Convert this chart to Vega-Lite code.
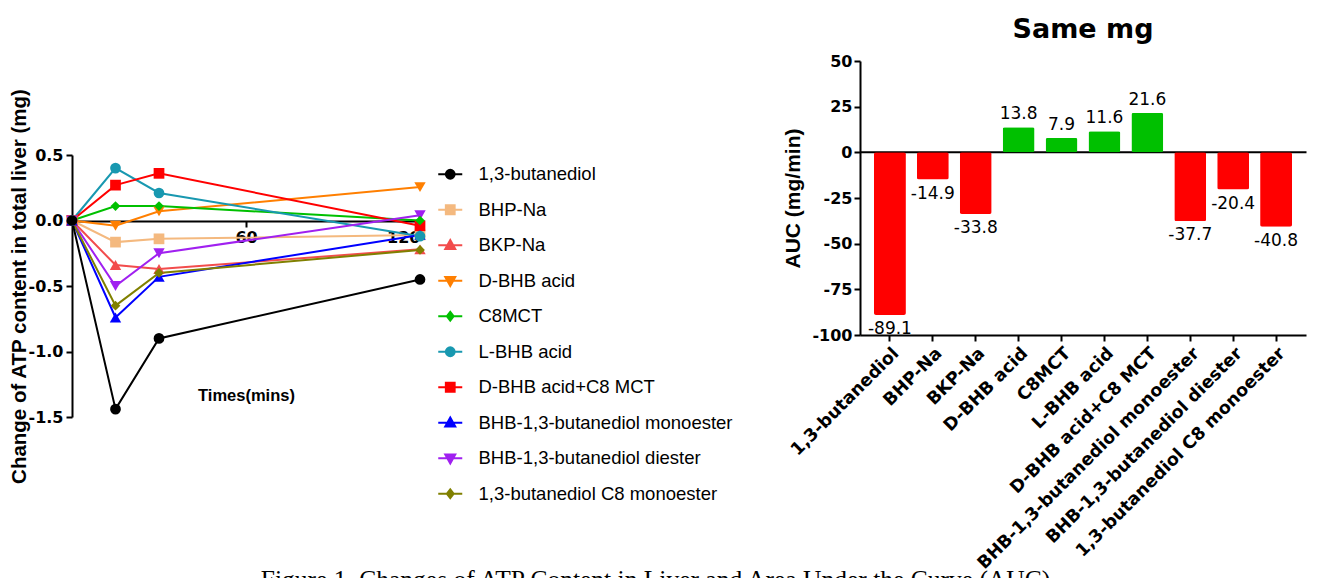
{
  "$schema": "https://vega.github.io/schema/vega-lite/v6.json",
  "width": 1234,
  "height": 356,
  "autosize": {"type": "none"},
  "padding": {"left": 72, "top": 61, "right": 13, "bottom": 161},
  "background": "white",
  "config": {
    "locale": {"number": {"decimal": ".", "thousands": ",", "grouping": [3], "currency": ["$", ""], "minus": "-"}},
    "view": {"stroke": null},
    "axis": {
      "domainColor": "black", "tickColor": "black", "labelColor": "black", "titleColor": "black",
      "domainWidth": 2, "tickWidth": 2, "tickSize": 6, "grid": false,
      "labelFont": "DejaVu Sans", "labelFontWeight": "bold", "labelFontSize": 16,
      "titleFont": "Liberation Sans", "titleFontWeight": "bold", "labelOverlap": false
    }
  },
  "title": {"text": "Same mg", "font": "DejaVu Sans", "fontSize": 27, "fontWeight": "bold", "anchor": "middle", "frame": "group", "dx": 394, "dy": -5, "color": "black"},
  "datasets": {
    "atp": [
      {"series": "BHP-Na", "time": 0, "change": 0},
      {"series": "BHP-Na", "time": 15, "change": -0.165},
      {"series": "BHP-Na", "time": 30, "change": -0.14},
      {"series": "BHP-Na", "time": 120, "change": -0.11},
      {"series": "BKP-Na", "time": 0, "change": 0},
      {"series": "BKP-Na", "time": 15, "change": -0.34},
      {"series": "BKP-Na", "time": 30, "change": -0.37},
      {"series": "BKP-Na", "time": 120, "change": -0.22},
      {"series": "D-BHB acid", "time": 0, "change": 0},
      {"series": "D-BHB acid", "time": 15, "change": -0.04},
      {"series": "D-BHB acid", "time": 30, "change": 0.07},
      {"series": "D-BHB acid", "time": 120, "change": 0.255},
      {"series": "C8MCT", "time": 0, "change": 0},
      {"series": "C8MCT", "time": 15, "change": 0.11},
      {"series": "C8MCT", "time": 30, "change": 0.11},
      {"series": "C8MCT", "time": 120, "change": 0.0},
      {"series": "L-BHB acid", "time": 0, "change": 0},
      {"series": "L-BHB acid", "time": 15, "change": 0.4},
      {"series": "L-BHB acid", "time": 30, "change": 0.21},
      {"series": "L-BHB acid", "time": 120, "change": -0.12},
      {"series": "D-BHB acid+C8 MCT", "time": 0, "change": 0},
      {"series": "D-BHB acid+C8 MCT", "time": 15, "change": 0.27},
      {"series": "D-BHB acid+C8 MCT", "time": 30, "change": 0.36},
      {"series": "D-BHB acid+C8 MCT", "time": 120, "change": -0.04},
      {"series": "BHB-1,3-butanediol monoester", "time": 0, "change": 0},
      {"series": "BHB-1,3-butanediol monoester", "time": 15, "change": -0.74},
      {"series": "BHB-1,3-butanediol monoester", "time": 30, "change": -0.43},
      {"series": "BHB-1,3-butanediol monoester", "time": 120, "change": -0.11},
      {"series": "BHB-1,3-butanediol diester", "time": 0, "change": 0},
      {"series": "BHB-1,3-butanediol diester", "time": 15, "change": -0.5},
      {"series": "BHB-1,3-butanediol diester", "time": 30, "change": -0.25},
      {"series": "BHB-1,3-butanediol diester", "time": 120, "change": 0.04},
      {"series": "1,3-butanediol C8 monoester", "time": 0, "change": 0},
      {"series": "1,3-butanediol C8 monoester", "time": 15, "change": -0.65},
      {"series": "1,3-butanediol C8 monoester", "time": 30, "change": -0.4},
      {"series": "1,3-butanediol C8 monoester", "time": 120, "change": -0.225},
      {"series": "1,3-butanediol", "time": 0, "change": 0},
      {"series": "1,3-butanediol", "time": 15, "change": -1.44},
      {"series": "1,3-butanediol", "time": 30, "change": -0.9},
      {"series": "1,3-butanediol", "time": 120, "change": -0.45}
    ],
    "auc": [
      {"compound": "1,3-butanediol", "AUC": -89.1},
      {"compound": "BHP-Na", "AUC": -14.9},
      {"compound": "BKP-Na", "AUC": -33.8},
      {"compound": "D-BHB acid", "AUC": 13.8},
      {"compound": "C8MCT", "AUC": 7.9},
      {"compound": "L-BHB acid", "AUC": 11.6},
      {"compound": "D-BHB acid+C8 MCT", "AUC": 21.6},
      {"compound": "BHB-1,3-butanediol monoester", "AUC": -37.7},
      {"compound": "BHB-1,3-butanediol diester", "AUC": -20.4},
      {"compound": "1,3-butanediol C8 monoester", "AUC": -40.8}
    ]
  },
  "layer": [
    {
      "data": {"name": "atp"},
      "encoding": {
        "x": {"field": "time", "type": "quantitative",
          "scale": {"domain": [0, 120], "range": [0, 348], "nice": false, "zero": false},
          "axis": {"orient": "bottom", "offset": -196, "values": [60, 120], "labelPadding": 2,
            "title": "Times(mins)", "titleFontSize": 16.5, "titleX": 174, "titleY": 174, "titleBaseline": "middle"}},
        "y": {"field": "change", "type": "quantitative",
          "scale": {"domain": [-1.5, 0.5], "range": [356, 94], "nice": false, "zero": false},
          "axis": {"orient": "left", "values": [0.5, 0, -0.5, -1, -1.5], "format": ".1f", "labelPadding": 3,
            "title": "Change of ATP content in total liver (mg)", "titleFontSize": 20.5, "titlePadding": -1}},
        "color": {"field": "series", "type": "nominal",
          "scale": {"domain": ["1,3-butanediol", "BHP-Na", "BKP-Na", "D-BHB acid", "C8MCT", "L-BHB acid", "D-BHB acid+C8 MCT", "BHB-1,3-butanediol monoester", "BHB-1,3-butanediol diester", "1,3-butanediol C8 monoester"],
            "range": ["#000000", "#F4B97F", "#F24C4C", "#FF7F00", "#00C000", "#1898B0", "#FF0000", "#0000FF", "#A020F0", "#808000"]},
          "legend": {"orient": "none", "legendX": 369, "legendY": 104, "title": null, "labelFont": "Liberation Sans", "labelFontSize": 18.5, "labelFontWeight": "normal", "labelColor": "black", "labelLimit": 400, "symbolSize": 16, "symbolOpacity": 1, "symbolStrokeWidth": 2, "labelOffset": 19, "rowPadding": 16.5, "padding": 0,
            "encode": {"symbols": {"update": {"stroke": {"scale": "color", "field": "value"}, "opacity": {"value": 1}}}}}}
      },
      "layer": [
        {"mark": {"type": "line", "strokeWidth": 2}},
        {"transform": [{"filter": {"field": "series", "oneOf": ["BHP-Na", "D-BHB acid+C8 MCT"]}}],
         "mark": {"type": "point", "filled": true, "shape": "square", "size": 115, "opacity": 1}},
        {"transform": [{"filter": {"field": "series", "oneOf": ["BKP-Na", "BHB-1,3-butanediol monoester"]}}],
         "mark": {"type": "point", "filled": true, "shape": "triangle-up", "size": 130, "opacity": 1}},
        {"transform": [{"filter": {"field": "series", "oneOf": ["D-BHB acid", "BHB-1,3-butanediol diester"]}}],
         "mark": {"type": "point", "filled": true, "shape": "triangle-down", "size": 130, "opacity": 1}},
        {"transform": [{"filter": {"field": "series", "oneOf": ["C8MCT", "1,3-butanediol C8 monoester"]}}],
         "mark": {"type": "point", "filled": true, "shape": "diamond", "size": 95, "opacity": 1}},
        {"transform": [{"filter": {"field": "series", "oneOf": ["L-BHB acid", "1,3-butanediol"]}}],
         "mark": {"type": "point", "filled": true, "shape": "circle", "size": 115, "opacity": 1}},
        {"mark": {"type": "point", "filled": true, "size": 16, "opacity": 0},
         "encoding": {
           "shape": {"field": "series", "type": "nominal",
             "scale": {"domain": ["1,3-butanediol", "BHP-Na", "BKP-Na", "D-BHB acid", "C8MCT", "L-BHB acid", "D-BHB acid+C8 MCT", "BHB-1,3-butanediol monoester", "BHB-1,3-butanediol diester", "1,3-butanediol C8 monoester"],
               "range": [
                 "M-6,0H6M2.2,0A2.2,2.2,0,1,1,-2.2,0A2.2,2.2,0,1,1,2.2,0Z",
                 "M-6,0H6M-2.2,-2.2H2.2V2.2H-2.2Z",
                 "M-6,0H6M0,-2.6L2.5,1.9L-2.5,1.9Z",
                 "M-6,0H6M0,2.6L2.5,-1.9L-2.5,-1.9Z",
                 "M-6,0H6M0,-2.2L1.7,0L0,2.2L-1.7,0Z",
                 "M-6,0H6M2.2,0A2.2,2.2,0,1,1,-2.2,0A2.2,2.2,0,1,1,2.2,0Z",
                 "M-6,0H6M-2.2,-2.2H2.2V2.2H-2.2Z",
                 "M-6,0H6M0,-2.6L2.5,1.9L-2.5,1.9Z",
                 "M-6,0H6M0,2.6L2.5,-1.9L-2.5,-1.9Z",
                 "M-6,0H6M0,-2.2L1.7,0L0,2.2L-1.7,0Z"
               ]},
             "legend": {"orient": "none", "legendX": 369, "legendY": 104, "title": null, "labelFont": "Liberation Sans", "labelFontSize": 18.5, "labelFontWeight": "normal", "labelColor": "black", "labelLimit": 400, "symbolSize": 16, "symbolOpacity": 1, "symbolStrokeWidth": 2, "labelOffset": 19, "rowPadding": 16.5, "padding": 0,
               "encode": {"symbols": {"update": {"stroke": {"scale": "color", "field": "value"}, "opacity": {"value": 1}}}}}}
         }}
      ]
    },
    {
      "data": {"name": "auc"},
      "encoding": {
        "x": {"field": "compound", "type": "nominal", "sort": null,
          "scale": {"domain": ["1,3-butanediol", "BHP-Na", "BKP-Na", "D-BHB acid", "C8MCT", "L-BHB acid", "D-BHB acid+C8 MCT", "BHB-1,3-butanediol monoester", "BHB-1,3-butanediol diester", "1,3-butanediol C8 monoester"],
            "range": [788, 1234], "paddingInner": 0.256, "paddingOuter": 0.326},
          "axis": {"orient": "bottom", "offset": -82, "labelAngle": -45, "labelAlign": "right", "labelBaseline": "top", "labelFontSize": 17.5, "labelPadding": 3, "labelLimit": 500,
            "title": "Figure 1. Changes of ATP Content in Liver and Area Under the Curve (AUC)", "titleFont": "Liberation Serif", "titleFontWeight": "normal", "titleFontSize": 25.5, "titleX": 583, "titleY": 252, "titleBaseline": "alphabetic", "titleAlign": "center"}},
        "y": {"field": "AUC", "type": "quantitative",
          "scale": {"domain": [-100, 50], "range": [274, 0], "nice": false, "zero": false},
          "axis": {"orient": "left", "offset": -788, "values": [50, 25, 0, -25, -50, -75, -100], "labelPadding": 2,
            "title": "AUC (mg/min)", "titleFontSize": 21, "titlePadding": 8}}
      },
      "layer": [
        {"mark": {"type": "bar", "cornerRadius": 2},
         "encoding": {"color": {"condition": {"test": "datum.AUC < 0", "value": "#FF0000"}, "value": "#00C000"}}},
        {"transform": [{"filter": "datum.AUC >= 0"}],
         "mark": {"type": "text", "dy": -13, "font": "DejaVu Sans", "fontSize": 17, "color": "black", "baseline": "middle", "align": "center"},
         "encoding": {
           "text": {"field": "AUC", "type": "quantitative", "format": ".1f"},
           "x": {"field": "compound", "type": "nominal", "sort": null,
             "axis": {"orient": "bottom", "offset": -265.3, "labels": false, "ticks": false, "title": null, "domainWidth": 2}}}},
        {"transform": [{"filter": "datum.AUC < 0"}],
         "mark": {"type": "text", "dy": 14, "font": "DejaVu Sans", "fontSize": 17, "color": "black", "baseline": "middle", "align": "center"},
         "encoding": {
           "text": {"field": "AUC", "type": "quantitative", "format": ".1f"},
           "x": {"field": "compound", "type": "nominal", "sort": null, "axis": null}}}
      ],
      "resolve": {"axis": {"x": "independent"}}
    }
  ],
  "resolve": {"scale": {"x": "independent", "y": "independent"}}
}
